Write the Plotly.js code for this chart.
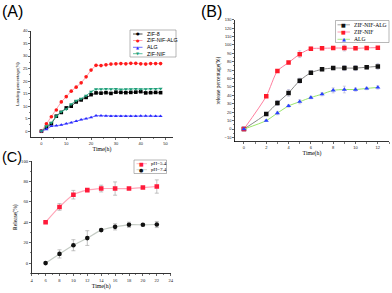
<!DOCTYPE html>
<html><head><meta charset="utf-8">
<script src="https://cdn.plot.ly/plotly-3.0.1.min.js"></script>
<style>html,body{margin:0;padding:0;background:#fff}#chart{width:392px;height:293px}</style>
</head><body><div id="chart"></div>
<script>
// ---------- Panel A: loading ----------
const timeA = [0,2,4,6,8,10,12,14,16,18,20,22,24,26,28,30,32,34,36,38,40,42,44,46,48];
const loadZIF8 = [0,1.5,3,6,7.5,9.3,10,11.7,12.5,13.5,14.6,15.3,15.2,15.4,15.1,15.6,15.5,15.4,15.5,15.6,15.8,15.3,15.4,15.5,15.4];
const loadZIFNIFALG = [0,3,5.8,8.5,11.7,13.8,16,17.6,19.3,21.7,24.4,26.3,26.2,26.5,26.8,26.9,27,26.9,27.1,27.1,26.9,26.8,27,27,27];
const loadALG = [0,0.8,2,2.2,2.5,3,3.4,4,4.6,5,5.5,6.2,6.2,6.1,6.0,6.0,6.0,6.0,6.0,6.0,6.1,6.1,6.1,6.0,6.0];
const loadZIFNIF = [0,2,3.4,6,7.8,8.8,10.8,12.2,13,14.2,15.8,16.8,16.8,16.9,16.8,16.9,16.7,16.8,16.8,16.9,16.8,16.8,16.9,16.9,17];
const namesA = ['ZIF-8','ZIF-NIF-ALG','ALG','ZIF-NIF'];

// ---------- Panel B: release ----------
const timeB = [0,2,3,4,5,6,7,8,9,10,11,12];
const relZIFNIFALG = [0,18,31,43,57.5,67,71,72.5,72.5,72.5,73.5,74.5];
const relZIFNIFALGErr = [0,1.5,3,4,3,2,1.5,2,3,3,2,3.5];
const relZIFNIF = [0,39,69,79,89,95.5,96,96.3,96.3,96,96.5,96.8];
const relZIFNIFErr = [0,1,1.5,1.5,4,2,1,1,3.5,1.5,1.5,1];
const relALG = [0,10,19,27.5,32.5,37.5,41.5,46,47,47,48.3,49.5];
const relALGErr = [0,1,2,1.5,2.5,1.5,2,3,4,2,1.5,2];
const namesB = ['ZIF-NIF-ALG','ZIF-NIF','ALG'];

// ---------- Panel C: pH release ----------
const timeC = [6,8,10,12,14,16,18,20,22];
const relPH54 = [40,55,67,71.5,73,73,73,74,75];
const relPH54Err = [0,3.3,4.2,1,3.3,6.5,1,1,6.5];
const relPH74 = [0,9,17.5,24.5,32.3,35.5,37.5,37.5,37.8];
const relPH74Err = [0,4,5.4,7.2,1,3,2.6,1,3];
const namesC = ['pH=5.4','pH=7.4'];

const W = 392, H = 293;
const px = x => x / W;
const py = y => 1 - y / H;
const SANS = 'Liberation Sans, Arial, sans-serif';
const SERIF = 'Liberation Serif, Times New Roman, serif';

const colA = {zif8:'#000000', zif8Line:'#222222', red:'#ff1a1a', redLine:'#ff8a9a', blue:'#2a2aff', blueLine:'#4a4aff', green:'#1e9e78', greenLine:'#30b08a'};
const colB = {black:'#111111', blackLine:'#8a8a8a', red:'#ff1a2a', redLine:'#ff7f9f', blue:'#2a40ff', blueLine:'#9be66a'};
const colC = {red:'#ff1a3a', redLine:'#ffa6b8', black:'#111111', blackLine:'#c4cbc4'};

function sA(x, y, name, color, lineColor, symbol) {
  return {x, y, name, type:'scatter', mode:'lines+markers', xaxis:'x', yaxis:'y',
    line:{color:lineColor, width:0.8}, marker:{color, symbol, size:3.6}, showlegend:false};
}
function sB(x, y, err, name, color, lineColor, symbol) {
  return {x, y, name, type:'scatter', mode:'lines+markers', xaxis:'x2', yaxis:'y2',
    line:{color:lineColor, width:1, shape:'spline', smoothing:0.7}, marker:{color, symbol, size:4.5},
    error_y:{type:'data', array:err, visible:true, color:'rgba(160,160,200,0.7)', thickness:0.7, width:1.5},
    showlegend:false};
}
function sC(x, y, err, name, color, lineColor, symbol) {
  return {x, y, name, type:'scatter', mode:'lines+markers', xaxis:'x3', yaxis:'y3',
    line:{color:lineColor, width:1.2, shape:'spline', smoothing:0.8}, marker:{color, symbol, size:4.6},
    error_y:{type:'data', array:err, visible:true, color:'#a8a8a8', thickness:0.7, width:2},
    showlegend:false};
}

const traces = [
  sA(timeA, loadZIF8, namesA[0], colA.zif8, colA.zif8Line, 'square'),
  sA(timeA, loadZIFNIFALG, namesA[1], colA.red, colA.redLine, 'circle'),
  sA(timeA, loadALG, namesA[2], colA.blue, colA.blueLine, 'triangle-up'),
  sA(timeA, loadZIFNIF, namesA[3], colA.green, colA.greenLine, 'triangle-down'),
  sB(timeB, relZIFNIFALG, relZIFNIFALGErr, namesB[0], colB.black, colB.blackLine, 'square'),
  sB(timeB, relZIFNIF, relZIFNIFErr, namesB[1], colB.red, colB.redLine, 'square'),
  sB(timeB, relALG, relALGErr, namesB[2], colB.blue, colB.blueLine, 'triangle-up'),
  sC(timeC, relPH54, relPH54Err, namesC[0], colC.red, colC.redLine, 'square'),
  sC(timeC, relPH74, relPH74Err, namesC[1], colC.black, colC.blackLine, 'circle'),
];

function axis(extra, tickFont) {
  return Object.assign({
    showline:true, linecolor:'#000', linewidth:0.8, mirror:false,
    ticks:'outside', ticklen:2, tickwidth:0.6, tickcolor:'#000',
    showgrid:false, zeroline:false, fixedrange:true,
    tickfont:tickFont, automargin:false
  }, extra);
}
const tfA = {family:SANS, size:4, color:'#222'};
const tfB = {family:SANS, size:4, color:'#222'};
const tfC = {family:SERIF, size:4.6, color:'#222'};

const annotations = [];
const shapes = [];
function label(t, x, y, s) {
  annotations.push({text:t, xref:'paper', yref:'paper', x:px(x), y:py(y), xanchor:'left', yanchor:'top',
    showarrow:false, font:{family:SANS, size:s, color:'#000'}});
}
label('(A)', 0, 1, 16);
label('(B)', 199, 1, 16);
label('(C)', 0, 146.5, 14.5);

// legend drawn as a framed box of text entries
function legend(box, rows, lineX, textX, entries, font) {
  shapes.push({type:'rect', xref:'paper', yref:'paper', x0:px(box[0]), x1:px(box[2]), y0:py(box[1]), y1:py(box[3]),
    line:{color:'#888', width:0.6}, fillcolor:'rgba(255,255,255,0)'});
  entries.forEach((e, i) => {
    shapes.push({type:'line', xref:'paper', yref:'paper', x0:px(lineX[0]), x1:px(lineX[1]), y0:py(rows[i]), y1:py(rows[i]),
      line:{color:e.line, width:0.8}});
    annotations.push({text:e.glyph, xref:'paper', yref:'paper', x:px((lineX[0]+lineX[1])/2), y:py(rows[i]),
      xanchor:'center', yanchor:'middle', showarrow:false, font:{family:'DejaVu Sans', size:e.gsize, color:e.color}});
    annotations.push({text:e.name, xref:'paper', yref:'paper', x:px(textX), y:py(rows[i]),
      xanchor:'left', yanchor:'middle', showarrow:false, font:font});
  });
}
legend([130,30,176,57], [34,40.5,47.3,53.7], [133,142.5], 144.5, [
  {name:namesA[0], color:colA.zif8, line:colA.zif8Line, glyph:'●', gsize:4},
  {name:namesA[1], color:colA.red, line:colA.redLine, glyph:'●', gsize:4},
  {name:namesA[2], color:colA.blue, line:colA.blueLine, glyph:'▲', gsize:4},
  {name:namesA[3], color:colA.green, line:colA.greenLine, glyph:'▼', gsize:4},
], {family:SANS, size:5.3, color:'#000'});
legend([335.5,20.5,389,42.5], [24.8,32,39.3], [337.5,350], 352, [
  {name:namesB[0], color:colB.black, line:colB.blackLine, glyph:'■', gsize:5},
  {name:namesB[1], color:colB.red, line:colB.redLine, glyph:'■', gsize:5},
  {name:namesB[2], color:colB.blue, line:colB.blueLine, glyph:'▲', gsize:5},
], {family:SERIF, size:5.6, color:'#000'});
legend([134,160,166.5,173.5], [163.7,169.7], [136.5,147], 149, [
  {name:namesC[0], color:colC.red, line:colC.redLine, glyph:'■', gsize:5},
  {name:namesC[1], color:colC.black, line:colC.blackLine, glyph:'●', gsize:5},
], {family:SERIF, size:5, color:'#000'});

const titleFont = {family:SERIF, size:5.8, color:'#000'};
const layout = {
  width:W, height:H, margin:{l:0, r:0, t:0, b:0, pad:0},
  paper_bgcolor:'#fff', plot_bgcolor:'rgba(0,0,0,0)', showlegend:false,
  xaxis: axis({domain:[px(31), px(173)], range:[-4.2,53], anchor:'y', tick0:0, dtick:10,
    minor:{ticks:'outside', ticklen:1.2, dtick:5, tickcolor:'#000', tickwidth:0.5},
    title:{text:'Time(h)', font:titleFont, standoff:1}}, tfA),
  yaxis: axis({domain:[py(137), py(31)], range:[-2.3,40], anchor:'x', tick0:0, dtick:5,
    minor:{ticks:'outside', ticklen:1.2, dtick:2.5, tickcolor:'#000', tickwidth:0.5},
    title:{text:'Loading percentage(%)', font:{family:SANS, size:4.2, color:'#000'}, standoff:3}}, tfA),
  xaxis2: axis({domain:[px(235), px(389)], range:[-0.8,13], anchor:'y2', tick0:0, dtick:2,
    minor:{ticks:'outside', ticklen:1.2, dtick:1, tickcolor:'#000', tickwidth:0.5},
    title:{text:'Time(h)', font:titleFont, standoff:1}}, tfB),
  yaxis2: axis({domain:[py(141.5), py(19.7)], range:[-14.8,130], anchor:'x2', tick0:0, dtick:10,
    minor:{ticks:'outside', ticklen:1.2, dtick:5, tickcolor:'#000', tickwidth:0.5},
    title:{text:'release percentage(%)', font:{family:SERIF, size:5.4, color:'#000'}, standoff:3}}, tfB),
  xaxis3: axis({domain:[px(31.7), px(170.7)], range:[4,24], anchor:'y3', tick0:4, dtick:2,
    minor:{ticks:'outside', ticklen:1.2, dtick:1, tickcolor:'#000', tickwidth:0.5},
    title:{text:'Time(h)', font:titleFont, standoff:2}}, tfC),
  yaxis3: axis({domain:[py(273.3), py(161)], range:[-10,100], anchor:'x3', tick0:0, dtick:20,
    minor:{ticks:'outside', ticklen:1.2, dtick:10, tickcolor:'#000', tickwidth:0.5},
    title:{text:'Release(%)', font:{family:SERIF, size:5.6, color:'#000'}, standoff:3}}, tfC),
  annotations, shapes
};

Plotly.newPlot('chart', traces, layout, {staticPlot:true, displayModeBar:false});
</script></body></html>
